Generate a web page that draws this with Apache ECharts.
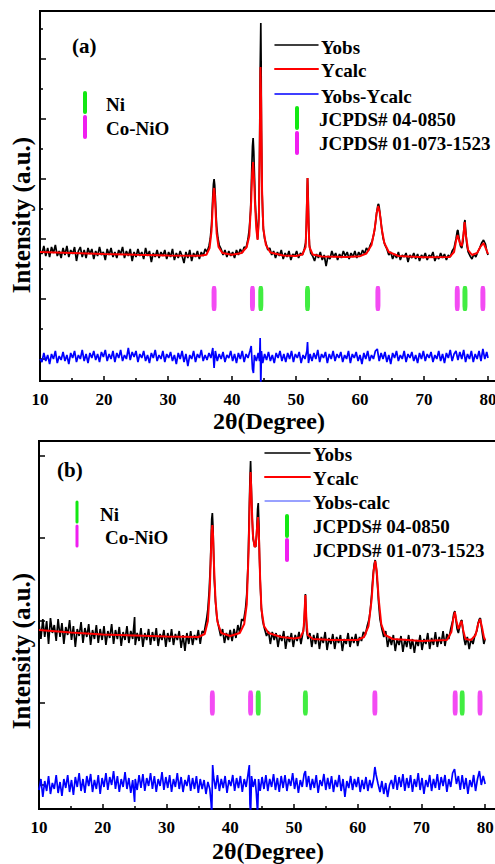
<!DOCTYPE html>
<html>
<head>
<meta charset="utf-8">
<script src="https://cdn.jsdelivr.net/npm/echarts@6/dist/echarts.min.js"></script>
<style>
  html, body { margin: 0; padding: 0; background: #fff; }
  #chart { width: 495px; height: 864px; }
</style>
</head>
<body>
<div id="chart"></div>
<script>
// panel (a): observed, calculated and difference patterns, [2theta, intensity]
const obsA = [
  [10,1310],[10.3,1270],[10.6,1350],[10.9,1250],[11.2,1330],[11.5,1240],[11.8,1340],[12.1,1280],[12.4,1360],[12.7,1250],
  [13,1300],[13.3,1230],[13.6,1330],[13.9,1260],[14.2,1350],[14.5,1240],[14.8,1310],[15.1,1270],[15.4,1340],[15.7,1200],
  [16,1300],[16.3,1340],[16.6,1240],[16.9,1310],[17.2,1230],[17.5,1330],[17.8,1270],[18.1,1320],[18.4,1220],[18.7,1300],
  [19,1250],[19.3,1340],[19.6,1260],[19.9,1290],[20.2,1210],[20.5,1320],[20.8,1260],[21.1,1330],[21.4,1240],[21.7,1290],
  [22,1230],[22.3,1310],[22.6,1270],[22.9,1340],[23.2,1230],[23.5,1300],[23.8,1250],[24.1,1320],[24.4,1200],[24.7,1290],
  [25,1240],[25.3,1320],[25.6,1250],[25.9,1290],[26.2,1220],[26.5,1330],[26.8,1250],[27.1,1300],[27.4,1190],[27.7,1280],
  [28,1240],[28.3,1310],[28.6,1230],[28.9,1290],[29.2,1250],[29.5,1310],[29.8,1220],[30.1,1290],[30.4,1240],[30.7,1320],
  [31,1210],[31.3,1280],[31.6,1230],[31.9,1300],[32.2,1250],[32.5,1180],[32.8,1290],[33.1,1230],[33.4,1310],[33.7,1200],
  [34,1280],[34.3,1240],[34.6,1300],[34.9,1220],[35.2,1290],[35.5,1250],[35.8,1320],[36.1,1290],[36.4,1350],[36.6,1420],
  [36.8,1560],[36.9,1700],[37,1850],[37.1,1970],[37.2,2020],[37.3,1960],[37.4,1830],[37.5,1680],[37.6,1550],[37.8,1430],
  [38,1360],[38.3,1320],[38.6,1260],[38.9,1310],[39.2,1240],[39.5,1300],[39.8,1250],[40.1,1290],[40.4,1230],[40.7,1310],
  [41,1260],[41.3,1320],[41.6,1280],[41.9,1340],[42.2,1330],[42.5,1420],[42.7,1520],[42.9,1700],[43,1900],[43.1,2150],
  [43.2,2350],[43.3,2430],[43.4,2300],[43.5,2080],[43.6,1850],[43.7,1700],[43.8,1600],[43.9,1500],[44,1420],[44.1,1520],
  [44.2,1700],[44.3,2200],[44.4,3100],[44.5,3580],[44.55,3200],[44.6,2500],[44.7,1900],[44.8,1650],[44.9,1520],[45.1,1420],
  [45.3,1380],[45.6,1310],[45.9,1330],[46.2,1260],[46.5,1300],[46.8,1230],[47.1,1290],[47.4,1250],[47.7,1310],[48,1220],
  [48.3,1280],[48.6,1240],[48.9,1300],[49.2,1210],[49.5,1270],[49.8,1250],[50.1,1300],[50.4,1230],[50.7,1280],[51,1260],
  [51.3,1320],[51.5,1380],[51.6,1500],[51.7,1800],[51.8,2030],[51.9,1850],[52,1520],[52.1,1360],[52.3,1280],[52.6,1250],
  [52.9,1200],[53.2,1270],[53.5,1230],[53.8,1290],[54.1,1210],[54.4,1260],[54.7,1150],[55,1250],[55.3,1220],[55.6,1300],
  [55.9,1240],[56.2,1280],[56.5,1210],[56.8,1270],[57.1,1230],[57.4,1300],[57.7,1250],[58,1290],[58.3,1220],[58.6,1280],
  [58.9,1240],[59.2,1300],[59.5,1230],[59.8,1290],[60.1,1250],[60.4,1310],[60.7,1270],[61,1330],[61.3,1300],[61.6,1360],
  [61.9,1400],[62.2,1480],[62.4,1570],[62.6,1680],[62.8,1760],[62.9,1770],[63,1740],[63.2,1630],[63.4,1520],[63.6,1430],
  [63.9,1360],[64.2,1320],[64.5,1260],[64.8,1290],[65.1,1220],[65.4,1270],[65.7,1230],[66,1290],[66.3,1210],[66.6,1260],
  [66.9,1240],[67.2,1280],[67.5,1190],[67.8,1260],[68.1,1230],[68.4,1280],[68.7,1220],[69,1270],[69.3,1200],[69.6,1260],
  [69.9,1230],[70.2,1280],[70.5,1210],[70.8,1260],[71.1,1240],[71.4,1290],[71.7,1200],[72,1250],[72.3,1220],[72.6,1280],
  [72.9,1230],[73.2,1270],[73.5,1210],[73.8,1260],[74.1,1240],[74.4,1300],[74.7,1330],[75,1420],[75.2,1500],[75.3,1510],
  [75.5,1420],[75.7,1350],[75.9,1330],[76.1,1400],[76.3,1580],[76.4,1610],[76.5,1520],[76.7,1360],[76.9,1290],[77.2,1250],
  [77.5,1220],[77.8,1270],[78.1,1240],[78.4,1290],[78.7,1330],[79,1380],[79.3,1410],[79.6,1370],[79.8,1300],[80,1260]
];
const calcA = [
  [10,1290],[15,1280],[20,1270],[25,1262],[30,1255],[35,1252],[36,1262],[36.5,1330],[36.8,1500],[37,1760],
  [37.1,1880],[37.2,1930],[37.3,1870],[37.4,1740],[37.6,1480],[37.9,1340],[38.5,1280],[40,1262],[41.5,1280],[42.3,1340],
  [42.7,1450],[43,1800],[43.15,2080],[43.3,2190],[43.45,2020],[43.6,1760],[43.8,1520],[44,1410],[44.2,1620],[44.35,2400],
  [44.45,3140],[44.55,2800],[44.7,1900],[44.9,1520],[45.3,1360],[46,1285],[48,1255],[50,1250],[51,1265],[51.5,1340],
  [51.65,1600],[51.8,2030],[51.95,1600],[52.1,1340],[52.6,1265],[54,1245],[58,1240],[60,1248],[61,1275],[61.8,1360],
  [62.3,1520],[62.6,1680],[62.85,1750],[63.1,1680],[63.4,1520],[63.8,1380],[64.5,1290],[66,1250],[70,1238],[74,1240],
  [74.7,1290],[75,1400],[75.25,1460],[75.6,1380],[75.9,1350],[76.2,1480],[76.35,1590],[76.55,1450],[76.9,1310],[77.5,1260],
  [78.3,1280],[78.8,1340],[79.3,1380],[79.7,1320],[80,1270]
];
const diffA = [
  [10,220],[10.3,190],[10.6,280],[10.9,200],[11.2,260],[11.5,170],[11.8,270],[12.1,220],[12.4,300],[12.7,180],
  [13,250],[13.3,210],[13.6,290],[13.9,200],[14.2,260],[14.5,170],[14.8,280],[15.1,230],[15.4,300],[15.7,190],
  [16,260],[16.3,220],[16.6,310],[16.9,200],[17.2,270],[17.5,180],[17.8,280],[18.1,230],[18.4,300],[18.7,210],
  [19,270],[19.3,190],[19.6,290],[19.9,240],[20.2,310],[20.5,200],[20.8,270],[21.1,220],[21.4,300],[21.7,190],
  [22,280],[22.3,230],[22.6,310],[22.9,200],[23.2,260],[23.5,220],[23.8,330],[24.1,210],[24.4,290],[24.7,240],
  [25,300],[25.3,190],[25.6,270],[25.9,230],[26.2,300],[26.5,200],[26.8,260],[27.1,180],[27.4,280],[27.7,230],
  [28,310],[28.3,200],[28.6,260],[28.9,220],[29.2,300],[29.5,190],[29.8,270],[30.1,230],[30.4,290],[30.7,200],
  [31,260],[31.3,170],[31.6,280],[31.9,220],[32.2,300],[32.5,190],[32.8,270],[33.1,150],[33.4,260],[33.7,220],
  [34,300],[34.3,190],[34.6,270],[34.9,230],[35.2,310],[35.5,200],[35.8,260],[36.1,210],[36.4,280],[36.7,230],
  [37,330],[37.2,130],[37.4,300],[37.7,200],[38,270],[38.3,220],[38.6,290],[38.9,190],[39.2,260],[39.5,230],
  [39.8,300],[40.1,200],[40.4,270],[40.7,180],[41,280],[41.3,220],[41.6,300],[41.9,190],[42.2,270],[42.5,230],
  [42.8,300],[43,350],[43.2,120],[43.35,80],[43.5,260],[43.8,200],[44.1,280],[44.3,200],[44.4,430],[44.5,-50],
  [44.6,300],[44.8,180],[45.1,270],[45.4,210],[45.7,290],[46,200],[46.3,260],[46.6,180],[46.9,280],[47.2,230],
  [47.5,300],[47.8,200],[48.1,270],[48.4,190],[48.7,280],[49,220],[49.3,300],[49.6,190],[49.9,270],[50.2,230],
  [50.5,290],[50.8,180],[51.1,260],[51.4,220],[51.7,300],[51.8,390],[51.95,180],[52.2,270],[52.5,200],[52.8,280],
  [53.1,220],[53.4,310],[53.7,190],[54,270],[54.3,230],[54.6,290],[54.9,180],[55.2,270],[55.5,220],[55.8,300],
  [56.1,200],[56.4,270],[56.7,230],[57,290],[57.3,190],[57.6,260],[57.9,220],[58.2,300],[58.5,180],[58.8,270],
  [59.1,230],[59.4,290],[59.7,200],[60,260],[60.3,170],[60.6,280],[60.9,220],[61.2,300],[61.5,200],[61.8,260],
  [62.1,220],[62.4,300],[62.7,320],[63,200],[63.3,280],[63.6,220],[63.9,290],[64.2,190],[64.5,260],[64.8,170],
  [65.1,280],[65.4,230],[65.7,300],[66,200],[66.3,260],[66.6,220],[66.9,300],[67.2,190],[67.5,270],[67.8,230],
  [68.1,290],[68.4,200],[68.7,260],[69,180],[69.3,280],[69.6,220],[69.9,300],[70.2,200],[70.5,270],[70.8,230],
  [71.1,290],[71.4,190],[71.7,260],[72,220],[72.3,300],[72.6,200],[72.9,270],[73.2,180],[73.5,280],[73.8,230],
  [74.1,310],[74.4,200],[74.7,270],[75,300],[75.3,210],[75.6,290],[75.9,220],[76.2,310],[76.5,190],[76.8,270],
  [77.1,220],[77.4,300],[77.7,190],[78,270],[78.3,220],[78.6,300],[78.9,200],[79.2,320],[79.5,220],[79.8,290],[80,230]
];

// panel (b)
const obsB = [
  [10,1850],[10.3,1700],[10.6,1900],[10.9,1720],[11.2,1880],[11.5,1650],[11.8,1910],[12.1,1760],[12.4,1840],[12.7,1680],
  [13,1900],[13.3,1720],[13.6,1860],[13.9,1650],[14.2,1820],[14.5,1740],[14.8,1890],[15.1,1690],[15.4,1830],[15.7,1620],
  [16,1800],[16.3,1730],[16.6,1870],[16.9,1660],[17.2,1810],[17.5,1720],[17.8,1850],[18.1,1640],[18.4,1790],[18.7,1700],
  [19,1840],[19.3,1660],[19.6,1800],[19.9,1690],[20.2,1830],[20.5,1640],[20.8,1780],[21.1,1710],[21.4,1850],[21.7,1650],
  [22,1790],[22.3,1700],[22.6,1820],[22.9,1630],[23.2,1770],[23.5,1690],[23.8,1830],[24.1,1660],[24.4,1780],[24.7,1700],
  [25,1920],[25.1,1640],[25.4,1760],[25.7,1680],[26,1810],[26.3,1620],[26.6,1760],[26.9,1690],[27.2,1800],[27.5,1640],
  [27.8,1770],[28.1,1680],[28.4,1810],[28.7,1630],[29,1750],[29.3,1690],[29.6,1790],[29.9,1620],[30.2,1760],[30.5,1670],
  [30.8,1800],[31.1,1640],[31.4,1750],[31.7,1690],[32,1780],[32.3,1610],[32.6,1740],[32.9,1580],[33.2,1760],[33.5,1650],
  [33.8,1780],[34.1,1640],[34.4,1740],[34.7,1690],[35,1790],[35.3,1650],[35.6,1780],[35.9,1760],[36.1,1830],[36.3,1900],
  [36.5,2000],[36.7,2180],[36.9,2450],[37,2680],[37.1,2900],[37.2,2960],[37.3,2820],[37.4,2550],[37.5,2300],[37.7,2070],
  [37.9,1920],[38.2,1820],[38.5,1730],[38.8,1800],[39.1,1660],[39.4,1760],[39.7,1690],[40,1790],[40.3,1680],[40.6,1800],
  [40.9,1710],[41.2,1840],[41.5,1760],[41.8,1900],[42.1,1880],[42.4,2000],[42.6,2150],[42.8,2450],[42.95,2850],[43.1,3300],
  [43.2,3480],[43.3,3250],[43.45,2900],[43.6,2700],[43.8,2640],[44,2620],[44.15,2750],[44.3,3000],[44.4,3060],[44.5,2850],
  [44.6,2500],[44.75,2200],[44.9,2000],[45.1,1880],[45.4,1800],[45.7,1730],[46,1780],[46.3,1650],[46.6,1770],[46.9,1690],
  [47.2,1760],[47.5,1620],[47.8,1740],[48.1,1680],[48.4,1780],[48.7,1600],[49,1730],[49.3,1670],[49.6,1760],[49.9,1620],
  [50.2,1740],[50.5,1680],[50.8,1770],[51.1,1650],[51.4,1760],[51.6,1850],[51.7,2000],[51.8,2150],[51.9,1960],[52,1780],
  [52.2,1700],[52.5,1760],[52.8,1620],[53.1,1740],[53.4,1650],[53.7,1760],[54,1600],[54.3,1720],[54.6,1660],[54.9,1770],
  [55.2,1590],[55.5,1710],[55.8,1650],[56.1,1750],[56.4,1600],[56.7,1720],[57,1660],[57.3,1740],[57.6,1580],[57.9,1700],
  [58.2,1650],[58.5,1760],[58.8,1620],[59.1,1720],[59.4,1660],[59.7,1750],[60,1630],[60.3,1720],[60.6,1680],[60.9,1770],
  [61.2,1740],[61.5,1830],[61.8,1900],[62,2000],[62.2,2150],[62.4,2330],[62.6,2450],[62.75,2490],[62.9,2420],[63.1,2250],
  [63.3,2050],[63.5,1900],[63.8,1800],[64.1,1720],[64.4,1780],[64.7,1620],[65,1720],[65.3,1640],[65.6,1740],[65.9,1580],
  [66.2,1700],[66.5,1640],[66.8,1730],[67.1,1570],[67.4,1700],[67.7,1620],[68,1740],[68.3,1600],[68.6,1700],[68.9,1560],
  [69.2,1690],[69.5,1630],[69.8,1740],[70.1,1590],[70.4,1700],[70.7,1650],[71,1760],[71.3,1600],[71.6,1710],[71.9,1640],
  [72.2,1770],[72.5,1620],[72.8,1720],[73.1,1650],[73.4,1780],[73.7,1630],[74,1750],[74.3,1700],[74.6,1800],[74.9,1880],
  [75.1,1960],[75.25,1980],[75.4,1900],[75.6,1800],[75.8,1760],[76,1820],[76.2,1880],[76.35,1890],[76.5,1800],[76.7,1700],
  [76.9,1640],[77.2,1720],[77.5,1600],[77.8,1700],[78.1,1650],[78.4,1740],[78.7,1780],[78.9,1860],[79.1,1900],[79.25,1910],
  [79.4,1830],[79.6,1740],[79.8,1650],[80,1700]
];
const calcB = [
  [10,1790],[15,1765],[20,1745],[25,1735],[30,1725],[35,1720],[36,1750],[36.5,1880],[36.8,2200],[37,2600],
  [37.1,2780],[37.2,2840],[37.3,2750],[37.45,2450],[37.7,2080],[38,1870],[38.6,1760],[40,1730],[41.5,1760],[42.2,1850],
  [42.6,2050],[42.9,2600],[43.05,3050],[43.2,3370],[43.35,3100],[43.55,2750],[43.8,2620],[44,2630],[44.2,2800],[44.35,2920],
  [44.5,2750],[44.7,2300],[44.9,2000],[45.3,1830],[46,1760],[48,1720],[50,1705],[51,1715],[51.5,1780],[51.65,1950],
  [51.8,2140],[51.95,1900],[52.15,1740],[53,1700],[56,1690],[60,1690],[61,1720],[61.7,1830],[62.2,2100],[62.5,2380],
  [62.75,2480],[63,2380],[63.3,2100],[63.7,1850],[64.3,1740],[65.5,1700],[70,1680],[74,1690],[74.7,1770],[75,1900],
  [75.25,1970],[75.5,1880],[75.8,1800],[76.1,1850],[76.3,1880],[76.55,1790],[76.9,1700],[77.8,1690],[78.5,1740],[78.9,1850],
  [79.2,1900],[79.5,1820],[79.8,1720],[80,1690]
];
const diffB = [
  [10,190],[10.3,300],[10.6,120],[10.9,280],[11.2,180],[11.5,330],[11.8,150],[12.1,260],[12.4,200],[12.7,340],
  [13,160],[13.3,270],[13.6,130],[13.9,300],[14.2,210],[14.5,340],[14.8,170],[15.1,290],[15.4,140],[15.7,320],
  [16,220],[16.3,360],[16.6,180],[16.9,300],[17.2,160],[17.5,330],[17.8,230],[18.1,350],[18.4,170],[18.7,290],
  [19,200],[19.3,340],[19.6,150],[19.9,310],[20.2,220],[20.5,360],[20.8,190],[21.1,320],[21.4,240],[21.7,380],
  [22,200],[22.3,330],[22.6,170],[22.9,300],[23.2,220],[23.5,370],[23.8,200],[24.1,310],[24.4,160],[24.7,290],
  [25,70],[25.1,300],[25.4,190],[25.7,340],[26,210],[26.3,350],[26.6,180],[26.9,310],[27.2,230],[27.5,360],
  [27.8,200],[28.1,330],[28.4,170],[28.7,300],[29,230],[29.3,370],[29.6,190],[29.9,320],[30.2,210],[30.5,340],
  [30.8,170],[31.1,300],[31.4,220],[31.7,360],[32,200],[32.3,320],[32.6,170],[32.9,290],[33.2,230],[33.5,340],
  [33.8,180],[34.1,310],[34.4,200],[34.7,330],[35,160],[35.3,300],[35.6,200],[35.9,290],[36.2,150],[36.5,270],
  [36.8,200],[37,60],[37.1,-50],[37.25,440],[37.4,320],[37.7,200],[38,340],[38.3,180],[38.6,300],[38.9,210],
  [39.2,330],[39.5,160],[39.8,290],[40.1,230],[40.4,340],[40.7,180],[41,310],[41.3,210],[41.6,330],[41.9,170],
  [42.2,300],[42.5,220],[42.8,350],[43,440],[43.1,50],[43.2,-50],[43.35,330],[43.6,220],[43.9,300],[44.1,160],
  [44.3,-50],[44.45,300],[44.7,180],[45,320],[45.3,200],[45.6,340],[45.9,180],[46.2,300],[46.5,220],[46.8,350],
  [47.1,190],[47.4,310],[47.7,170],[48,330],[48.3,210],[48.6,340],[48.9,180],[49.2,300],[49.5,230],[49.8,360],
  [50.1,200],[50.4,310],[50.7,160],[51,290],[51.3,220],[51.6,350],[51.8,380],[52,220],[52.3,330],[52.6,190],
  [52.9,300],[53.2,210],[53.5,340],[53.8,160],[54.1,290],[54.4,230],[54.7,350],[55,190],[55.3,310],[55.6,200],
  [55.9,330],[56.2,170],[56.5,290],[56.8,220],[57.1,340],[57.4,180],[57.7,300],[58,120],[58.3,280],[58.6,210],
  [58.9,330],[59.2,190],[59.5,300],[59.8,220],[60.1,320],[60.4,170],[60.7,290],[61,200],[61.3,320],[61.6,180],
  [61.9,290],[62.2,210],[62.5,300],[62.7,420],[62.9,340],[63.2,250],[63.5,170],[63.8,280],[64.1,150],[64.4,260],
  [64.7,120],[65,240],[65.3,290],[65.6,200],[65.9,340],[66.2,190],[66.5,320],[66.8,220],[67.1,350],[67.4,180],
  [67.7,310],[68,210],[68.3,340],[68.6,170],[68.9,300],[69.2,220],[69.5,360],[69.8,190],[70.1,310],[70.4,150],
  [70.7,290],[71,220],[71.3,340],[71.6,180],[71.9,300],[72.2,210],[72.5,350],[72.8,190],[73.1,320],[73.4,230],
  [73.7,340],[74,170],[74.3,300],[74.6,220],[74.9,360],[75.2,400],[75.5,250],[75.8,330],[76.1,190],[76.4,340],
  [76.7,200],[77,310],[77.3,150],[77.6,290],[77.9,220],[78.2,340],[78.5,180],[78.8,300],[79.1,380],[79.4,240],
  [79.7,330],[80,250]
];

// reflection positions (2theta)
const niPeaksA = [44.5, 51.8, 76.4];
const nioPeaksA = [37.2, 43.2, 62.8, 75.2, 79.2];
const niPeaksB = [44.4, 51.8, 76.4];
const nioPeaksB = [37.2, 43.2, 62.7, 75.3, 79.2];

const yMajorA = [220, 820, 1420, 2020, 2620, 3220];
const yMinorA = [520, 1120, 1720, 2320, 2920, 3520];
const yTicksB = [240, 1060, 1880, 2710, 3530];

const FONT = 'Liberation Serif';
const GREEN = '#12e812';
const MAGENTA = '#f01ef0';

const chart = echarts.init(document.getElementById('chart'), null, { renderer: 'svg' });

// axis runs on past 80 so the right frame edge falls outside the picture
const xAxisFor = (gridIndex) => ({
  type: 'value',
  gridIndex,
  min: 10,
  max: 85,
  interval: 10,
  axisLine: { show: true, onZero: false, lineStyle: { color: '#000', width: 2 } },
  axisTick: { inside: true, length: 5, lineStyle: { color: '#000', width: 1.5 } },
  minorTick: { show: true, splitNumber: 2, length: 3, lineStyle: { color: '#000', width: 1.5 } },
  axisLabel: {
    showMaxLabel: false,
    margin: 10,
    color: '#000',
    fontFamily: FONT,
    fontWeight: 'bold',
    fontSize: 17
  },
  splitLine: { show: false },
  minorSplitLine: { show: false }
})

const yAxisFor = (gridIndex, max, ticks, len, showLine) => ({
  type: 'value',
  gridIndex,
  min: 0,
  max,
  position: 'left',
  axisLine: { show: showLine, onZero: false, lineStyle: { color: '#000', width: 2 } },
  axisTick: { show: true, inside: true, length: len, customValues: ticks, lineStyle: { color: '#000', width: 1.5 } },
  axisLabel: { show: false },
  splitLine: { show: false }
})

const lineSeries = (name, data, color, width, xi, yi, z) => ({
  name,
  type: 'line',
  data,
  xAxisIndex: xi,
  yAxisIndex: yi,
  showSymbol: false,
  symbol: 'none',
  lineStyle: { color, width },
  z,
  silent: true,
  animation: false
})

const markSeries = (peaks, level, color, xi, yi) => ({
  type: 'scatter',
  xAxisIndex: xi,
  yAxisIndex: yi,
  data: peaks.map(p => [p, level]),
  symbol: 'roundRect',
  symbolSize: [5, 25],
  itemStyle: { color },
  z: 4,
  silent: true,
  animation: false
})

const txt = (x, y, text, size, extra) => ({
  type: 'text',
  x,
  y,
  silent: true,
  rotation: (extra && extra.rotation) || 0,
  style: {
    text,
    fill: '#000',
    fontFamily: FONT,
    fontWeight: 'bold',
    fontSize: size,
    textAlign: (extra && extra.align) || 'left',
    textVerticalAlign: 'middle'
  }
})

const seg = (x1, y1, x2, y2, color, width) => ({
  type: 'line',
  silent: true,
  shape: { x1, y1, x2, y2 },
  style: { stroke: color, lineWidth: width, lineCap: 'round' }
})

const option = {
  backgroundColor: '#fff',
  animation: false,
  grid: [
    { left: 40, top: 11, width: 480, height: 370, outerBoundsMode: 'none', containLabel: false, show: true, borderColor: '#000', borderWidth: 2 },
    { left: 39, top: 441, width: 478, height: 368, outerBoundsMode: 'none', containLabel: false, show: true, borderColor: '#000', borderWidth: 2 }
  ],
  xAxis: [xAxisFor(0), xAxisFor(1)],
  yAxis: [
    yAxisFor(0, 3700, yMajorA, 6, true),
    yAxisFor(0, 3700, yMinorA, 3, false),
    yAxisFor(1, 3680, yTicksB, 6, true)
  ],
  series: [
    lineSeries('Yobs', obsA, '#000', 1.7, 0, 0, 2),
    lineSeries('Ycalc', calcA, '#ff0000', 2, 0, 0, 3),
    lineSeries('Yobs-Ycalc', diffA, '#0000ff', 1.7, 0, 0, 2),
    markSeries(niPeaksA, 825, GREEN, 0, 0),
    markSeries(nioPeaksA, 825, MAGENTA, 0, 0),
    lineSeries('Yobs', obsB, '#000', 1.7, 1, 2, 2),
    lineSeries('Ycalc', calcB, '#ff0000', 2, 1, 2, 3),
    lineSeries('Yobs-calc', diffB, '#0000ff', 1.7, 1, 2, 2),
    markSeries(niPeaksB, 1060, GREEN, 1, 2),
    markSeries(nioPeaksB, 1060, MAGENTA, 1, 2)
  ],
  graphic: [
    // panel (a) labels
    txt(72, 46, '(a)', 21),
    seg(85, 93, 85, 112, GREEN, 4),
    seg(85, 117, 85, 137, MAGENTA, 4),
    txt(106, 104, 'Ni', 19),
    txt(106, 128, 'Co-NiO', 19),
    seg(275, 45, 318, 45, '#000', 1.5),
    seg(275, 69, 318, 69, '#ff0000', 2),
    seg(275, 94, 318, 94, '#0000ff', 1.5),
    txt(321, 47, 'Yobs', 19),
    txt(321, 70, 'Ycalc', 19),
    txt(321, 96, 'Yobs-Ycalc', 19),
    seg(297, 108, 297, 128, GREEN, 4),
    seg(297, 133, 297, 153, MAGENTA, 4),
    txt(319, 119, 'JCPDS# 04-0850', 19),
    txt(319, 143, 'JCPDS# 01-073-1523', 19),
    txt(21, 215, 'Intensity (a.u.)', 25, { rotation: Math.PI / 2, align: 'center' }),
    txt(269, 421, '2θ(Degree)', 24, { align: 'center' }),
    // panel (b) labels
    txt(57, 470, '(b)', 21),
    seg(77, 502, 77, 522, GREEN, 3),
    seg(77, 526, 77, 546, MAGENTA, 3),
    txt(100, 514, 'Ni', 19),
    txt(105, 537, 'Co-NiO', 19),
    seg(265, 453, 310, 453, '#000', 1.5),
    seg(265, 477, 310, 477, '#ff0000', 2),
    seg(265, 501, 310, 501, '#3344ff', 1),
    txt(313, 454, 'Yobs', 19),
    txt(313, 478, 'Ycalc', 19),
    txt(313, 502, 'Yobs-calc', 19),
    seg(287, 516, 287, 536, GREEN, 4),
    seg(287, 540, 287, 560, MAGENTA, 4),
    txt(313, 526, 'JCPDS# 04-0850', 19),
    txt(313, 550, 'JCPDS# 01-073-1523', 19),
    txt(21, 651, 'Intensity (a.u.)', 25, { rotation: Math.PI / 2, align: 'center' }),
    txt(268, 851, '2θ(Degree)', 24, { align: 'center' })
  ]
}

chart.setOption(option)
</script>
</body>
</html>
